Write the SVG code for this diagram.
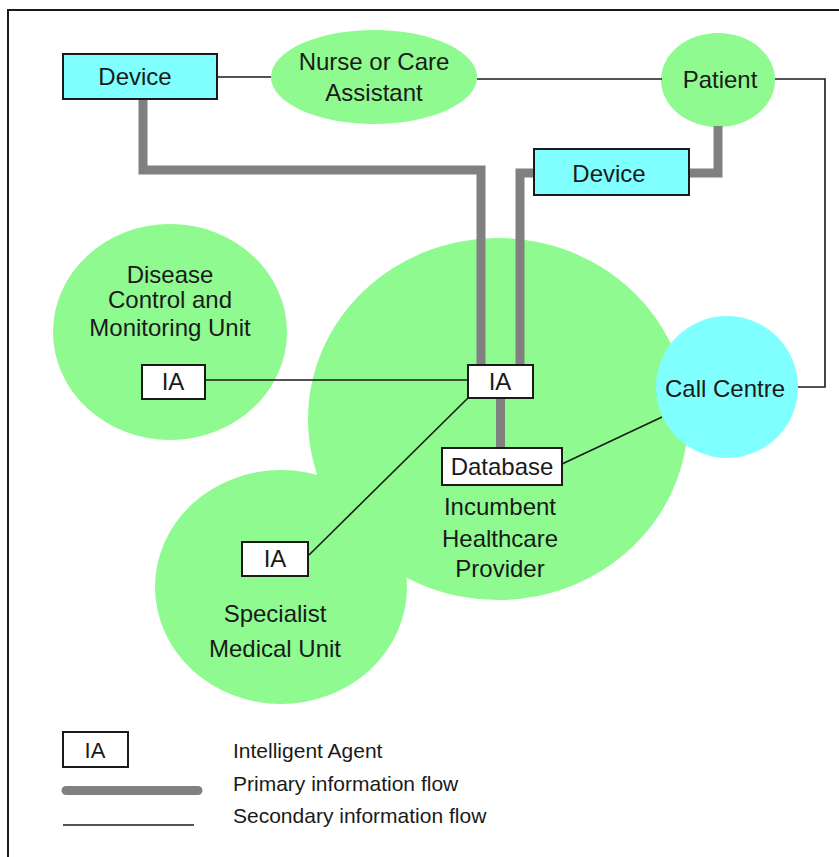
<svg xmlns="http://www.w3.org/2000/svg" width="839" height="857" viewBox="0 0 839 857">
<defs>
<style>
.t{font-family:"Liberation Sans",Arial,sans-serif;font-size:24px;fill:#1a1a1a;text-anchor:middle}
.lg{font-family:"Liberation Sans",Arial,sans-serif;font-size:21px;fill:#1a1a1a}
.green{fill:#8ffa8f}
.cyan{fill:#80ffff}
.box{fill:#ffffff;stroke:#1a1a1a;stroke-width:2}
.dev{fill:#80ffff;stroke:#1a1a1a;stroke-width:2}
.pri{fill:none;stroke:#808080;stroke-width:9;stroke-linejoin:miter}
.sec{fill:none;stroke:#1a1a1a;stroke-width:1.6}
</style>
</defs>
<rect x="0" y="0" width="839" height="857" fill="#ffffff"/>
<rect x="8" y="10" width="840" height="860" fill="none" stroke="#1a1a1a" stroke-width="2"/>

<g id="incumbent">
<ellipse class="green" cx="498" cy="419" rx="190" ry="181"/>
</g>
<g id="disease-unit">
<ellipse class="green" cx="170" cy="332" rx="117" ry="108"/>
<text class="t" x="170" y="283">Disease</text>
<text class="t" x="170" y="308">Control and</text>
<text class="t" x="170" y="336">Monitoring Unit</text>
</g>
<g id="specialist-unit">
<ellipse class="green" cx="281" cy="587" rx="126" ry="117"/>
<text class="t" x="275" y="622">Specialist</text>
<text class="t" x="275" y="657">Medical Unit</text>
</g>
<g id="incumbent-label">
<text class="t" x="500" y="515">Incumbent</text>
<text class="t" x="500" y="547">Healthcare</text>
<text class="t" x="500" y="577">Provider</text>
</g>
<g id="call-centre">
<circle class="cyan" cx="727" cy="387" r="71"/>
<text class="t" x="725" y="397">Call Centre</text>
</g>
<g id="nurse">
<ellipse class="green" cx="374" cy="77" rx="103" ry="47"/>
<text class="t" x="374" y="70">Nurse or Care</text>
<text class="t" x="374" y="101">Assistant</text>
</g>
<g id="patient">
<ellipse class="green" cx="718" cy="80" rx="57" ry="47"/>
<text class="t" x="720" y="88">Patient</text>
</g>

<g id="connectors">
<polyline class="pri" points="143,99 143,170 481,170 481,366"/>
<polyline class="pri" points="718,126 718,173 689,173"/>
<polyline class="pri" points="534,173 520,173 520,366"/>
<line class="pri" x1="500.5" y1="398" x2="500.5" y2="449"/>
<line class="sec" x1="217" y1="77" x2="271" y2="77"/>
<line class="sec" x1="477" y1="79" x2="662" y2="79"/>
<polyline class="sec" points="775,79 825,79 825,387 798,387"/>
<line class="sec" x1="205" y1="380" x2="468" y2="380"/>
<line class="sec" x1="309" y1="555" x2="468" y2="398"/>
<line class="sec" x1="562" y1="464" x2="662" y2="417"/>
</g>

<g id="device-1">
<rect class="dev" x="63" y="54" width="154" height="45"/>
<text class="t" x="135" y="85">Device</text>
</g>
<g id="device-2">
<rect class="dev" x="534" y="149" width="155" height="46"/>
<text class="t" x="609" y="182">Device</text>
</g>
<g id="ia-centre">
<rect class="box" x="468" y="365" width="65" height="33"/>
<text class="t" x="500" y="390">IA</text>
</g>
<g id="ia-disease">
<rect class="box" x="142" y="365" width="63" height="34"/>
<text class="t" x="173" y="390">IA</text>
</g>
<g id="ia-specialist">
<rect class="box" x="242" y="542" width="66" height="34"/>
<text class="t" x="275" y="567">IA</text>
</g>
<g id="database">
<rect class="box" x="442" y="448" width="120" height="37"/>
<text class="t" x="502" y="475">Database</text>
</g>

<g id="legend">
<rect class="box" x="63" y="732" width="65" height="35"/>
<text class="t" x="95" y="758" style="font-size:22px">IA</text>
<text class="lg" x="233" y="758">Intelligent Agent</text>
<line x1="66" y1="790.5" x2="198" y2="790.5" stroke="#808080" stroke-width="9" stroke-linecap="round"/>
<text class="lg" x="233" y="791">Primary information flow</text>
<line class="sec" x1="63" y1="825" x2="194" y2="825"/>
<text class="lg" x="233" y="823">Secondary information flow</text>
</g>
</svg>
